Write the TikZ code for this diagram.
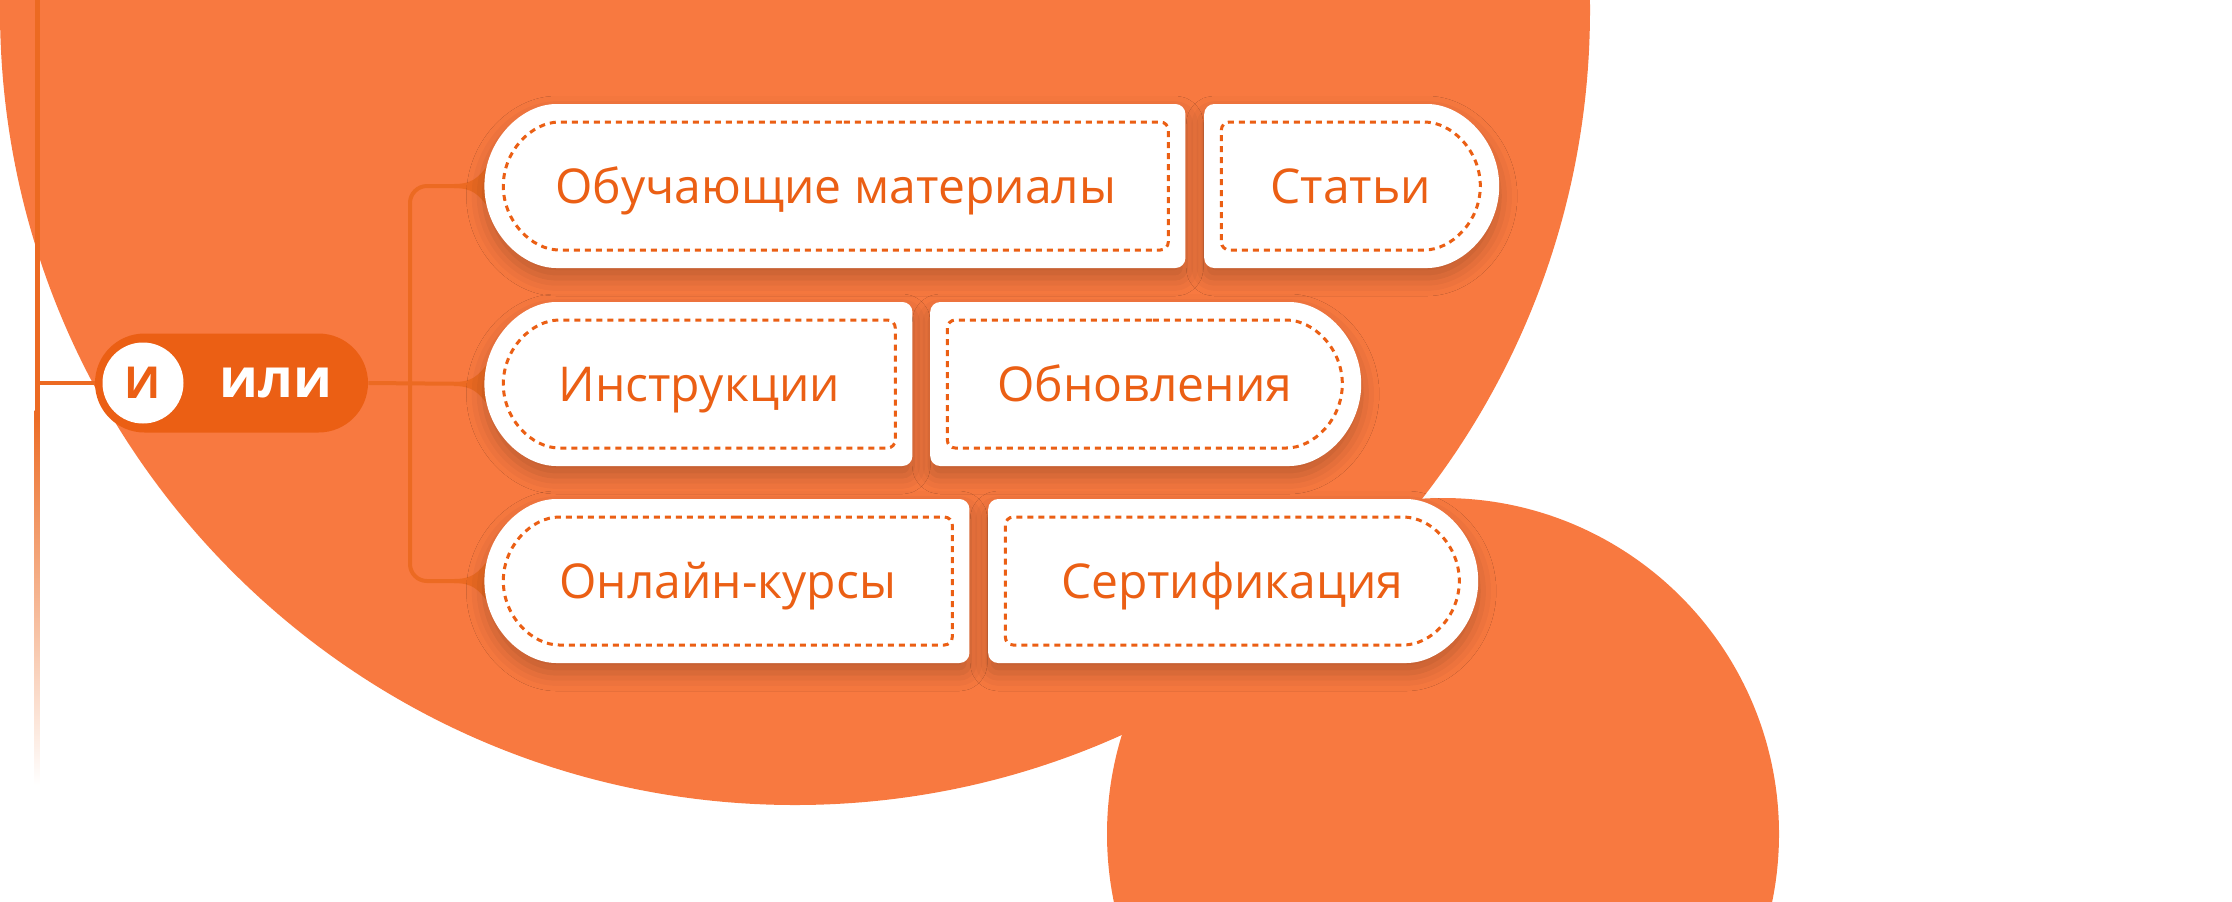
\documentclass[tikz,border=0pt]{standalone}
\usepackage{fontspec}
\setmainfont{Open Sans}
\usepackage{tikz}
\usetikzlibrary{positioning,shapes.misc,shadows.blur,calc}

\definecolor{bgorange}{RGB}{248,121,64}
\definecolor{brand}{RGB}{235,95,20}
\definecolor{linkcol}{RGB}{236,106,34}

\tikzset{
  pill/.style={rounded rectangle, fill=white, inner sep=0pt, minimum height=82pt,
    text=brand, font=\fontsize{24}{28}\selectfont, text height=17pt, text depth=0pt,
    blur shadow={shadow xshift=0pt, shadow yshift=-5pt, shadow blur radius=9pt, shadow opacity=24}},
  lpill/.style={pill, rounded rectangle right arc=none, rounded corners=5pt},
  rpill/.style={pill, rounded rectangle left arc=none, rounded corners=5pt},
  dashbox/.style={rounded rectangle, draw=brand, line width=1.5pt, dash pattern=on 3pt off 2.5pt,
    minimum height=64pt, inner sep=0pt, rounded corners=4pt},
  ldash/.style={dashbox, rounded rectangle right arc=none},
  rdash/.style={dashbox, rounded rectangle left arc=none},
  link/.style={draw=linkcol, line width=2pt, rounded corners=8.5pt},
}

\begin{document}
\begin{tikzpicture}[x=0.5pt, y=-0.5pt]
    \useasboundingbox (0,0) rectangle (2232,901);

    % Background discs and rail
    \begin{scope}
      \clip (0,0) rectangle (2232,901);
      \fill[bgorange] (795,10) circle[radius=397.5pt];
      \fill[bgorange] (1443,834) circle[radius=168pt];
    \end{scope}
    \shade[top color=linkcol, bottom color=white] (34.5,410) rectangle (39.5,785);
    \fill[linkcol] (34.5,0) rectangle (39.5,420);

    % And/or switch
    \node[rounded rectangle, fill=brand, minimum width=136.5pt, minimum height=49.5pt, inner sep=0pt] (andor) at (231.5,383) {};
    \node[circle, fill=white, minimum size=40.5pt, inner sep=0pt, text=brand, font=\bfseries\fontsize{22}{24}\selectfont] (and) at (143,383) {И};
    \node[inner sep=0pt, text=white, font=\bfseries\fontsize{27}{30}\selectfont] (or) at (276,383) {или};

    % Connectors
    \coordinate (spine) at (37,383);
    \coordinate (fork) at (410,383);
    \coordinate (tutorw) at (484,186);
    \coordinate (guidesw) at (484,384);
    \coordinate (coursesw) at (484,581);
    \draw[link] (spine) -- (andor.west);
    \draw[link] (andor.east) -- (guidesw);
    \draw[link] (fork) |- (tutorw);
    \draw[link] (fork) |- (coursesw);
    \foreach \p in {tutorw,guidesw,coursesw}
      \fill[linkcol] ($(\p)+(-30,-2)$) .. controls ($(\p)+(-12,-2)$) and ($(\p)+(-6,-8)$) .. ($(\p)+(4,-21)$)
        -- ($(\p)+(4,21)$) .. controls ($(\p)+(-6,8)$) and ($(\p)+(-12,2)$) .. ($(\p)+(-30,2)$) -- cycle;

    % Row 1
    \node[lpill, minimum width=350.5pt, anchor=west] (tutor) at (tutorw) {Обучающие материалы};
    \node[rpill, minimum width=147.5pt, right=9pt of tutor] (articles) {Статьи};
    \node[ldash, minimum width=332.5pt] (tutordash) at (tutor.center) {};
    \node[rdash, minimum width=129.5pt] (articlesdash) at (articles.center) {};

    % Row 2
    \node[lpill, minimum width=214pt, anchor=west] (guides) at (guidesw) {Инструкции};
    \node[rpill, minimum width=215.5pt, right=8.5pt of guides] (updates) {Обновления};
    \node[ldash, minimum width=196pt] (guidesdash) at (guides.center) {};
    \node[rdash, minimum width=197.5pt] (updatesdash) at (updates.center) {};

    % Row 3
    \node[lpill, minimum width=242.5pt, anchor=west] (courses) at (coursesw) {Онлайн-курсы};
    \node[rpill, minimum width=245pt, right=9pt of courses] (certs) {Сертификация};
    \node[ldash, minimum width=224.5pt] (coursesdash) at (courses.center) {};
    \node[rdash, minimum width=227pt] (certsdash) at (certs.center) {};
\end{tikzpicture}
\end{document}
